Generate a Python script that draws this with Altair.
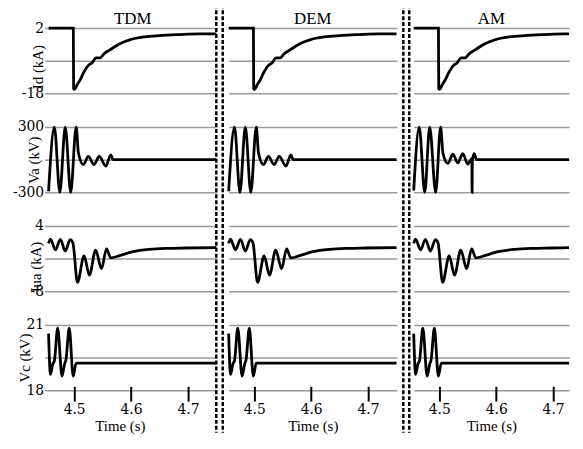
import altair as alt
import pandas as pd

METHODS = ["TDM", "DEM", "AM"]
TIME_TICKS = [4.5, 4.6, 4.7]

# Id (kA)
ID_T = [4.455, 4.4985, 4.4990, 4.5003, 4.5054, 4.5107, 4.5176, 4.5246, 4.5315, 4.5385,
        4.5454, 4.5524, 4.5628, 4.5802, 4.5976, 4.6237, 4.6498, 4.6846, 4.7193, 4.7500]
ID_V = [2, 2, -16.5, -16.8, -15.3, -13.8, -11.3, -9.5, -8.6, -7.1,
        -7.1, -5.9, -4.7, -2.8, -1.6, -0.7, -0.3, 0.0, 0.2, 0.2]

# Va (kV) for TDM and DEM
VA_T = [4.455, 4.4652, 4.4748, 4.4843, 4.4939, 4.5035, 4.5075, 4.5162, 4.5249, 4.5348,
        4.5440, 4.5557, 4.5643, 4.5683, 4.7500]
VA_V = [-290, 300, -300, 300, -300, 300, 60, -45, 30, -45,
        30, -60, 45, 0, 0]

# Va (kV) for AM
VA_AM_T = [4.455, 4.4647, 4.4744, 4.4831, 4.4936, 4.5023, 4.5064, 4.5151, 4.5238, 4.5325,
           4.5412, 4.5499, 4.5572, 4.5576, 4.5580, 4.5614, 4.5655, 4.7500]
VA_AM_V = [-284, 300, -300, 300, -300, 300, 60, -35, 50, -30,
           55, -40, 10, -300, -10, 55, 0, 0]

# Iua (kA)
IUA_T = [4.455, 4.4583, 4.4670, 4.4757, 4.4843, 4.4930, 4.4977, 4.5058, 4.5174, 4.5267,
         4.5377, 4.5481, 4.5568, 4.5643, 4.5800, 4.6032, 4.6322, 4.6612, 4.6960, 4.7500]
IUA_V = [0.8, 1.6, -0.4, 1.55, -0.6, 1.5, 0.9, -6.35, -1.5, -5.05,
         -0.45, -3.85, -0.2, -1.86, -1.45, -0.73, -0.3, -0.12, -0.05, 0.0]

# Vc (kV)
VC_T = [4.455, 4.4583, 4.4623, 4.4652, 4.4710, 4.4786, 4.4831, 4.4856, 4.4913, 4.4983,
        4.5035, 4.7500]
VC_V = [20.6, 18.73, 19.2, 19.35, 20.85, 18.65, 19.2, 19.4, 20.85, 18.65,
        19.25, 19.25]

SERIES = {
    "TDM": [(ID_T, ID_V), (VA_T, VA_V), (IUA_T, IUA_V), (VC_T, VC_V)],
    "DEM": [(ID_T, ID_V), (VA_T, VA_V), (IUA_T, IUA_V), (VC_T, VC_V)],
    "AM": [(ID_T, ID_V), (VA_AM_T, VA_AM_V), (IUA_T, IUA_V), (VC_T, VC_V)],
}

ROW_TITLES = ["Id (kA)", "Va (kV)", "Iua (kA)", "Vc (kV)"]
ROW_DOMAINS = [[-18, 2], [-300, 300], [-8, 4], [18, 21]]
ROW_TICKS = [[-18, -8, 2], [-300, 0, 300], [-8, -2, 4], [18, 19.5, 21]]

H = 66
VSP = 34
COL_W = [170, 170, 157]
TITLE_X = [-11, -15, -13, -24]
TITLE_DY = [6, 0, 8, 0]
SEP_X = [None, [-12.5, -6], [-10.5, -4.5]]
GAP_X = [None, None, -19]
TITLE_OFFSET = [-7, -6, -6]

SERIF = "Liberation Serif"
NUMF = "DejaVu Serif"
GRID = "#9a9a9a"


def cell(ci, ri):
    method = METHODS[ci]
    t, v = SERIES[method][ri]
    df = pd.DataFrame({"t": t, "v": v})
    w = COL_W[ci]
    t0 = 4.455
    dom = [t0, t0 + w / 575.0]
    if ri == 3:
        ax_kw = dict(values=TIME_TICKS, format=".1f", title="Time (s)", domain=False, grid=False,
                     ticks=True, tickSize=15, tickWidth=2, tickColor="black", offset=-4,
                     labelFont=NUMF, labelFontSize=14, labelColor="black", labelPadding=2,
                     labelFlush=False, titleFont=SERIF, titleFontSize=15, titleFontWeight="normal",
                     titleColor="black", titleBaseline="alphabetic", titleY=45)
        if ci == 0:
            ax_kw["titleX"] = 72
        xaxis = alt.Axis(**ax_kw)
    else:
        xaxis = None
    x = alt.X("t:Q", scale=alt.Scale(domain=dom, nice=False, zero=False, clamp=True), axis=xaxis)
    hide = ROW_TICKS[ri][1]
    if ci == 0:
        yaxis = alt.Axis(values=ROW_TICKS[ri],
                         labelExpr=f"datum.value == {hide} ? '' : toString(datum.value)",
                         title=ROW_TITLES[ri], titleX=TITLE_X[ri], titleY=H / 2 + TITLE_DY[ri],
                         titleAngle=270, titleAlign="center", titleBaseline="middle",
                         titleFont=SERIF, titleFontSize=15, titleFontWeight="normal", titleColor="black",
                         grid=True, gridColor=GRID, gridWidth=1.5, domain=False,
                         ticks=True, tickSize=4, tickColor=GRID, tickWidth=1.5,
                         labelPadding=1, labelFont=NUMF, labelFontSize=14, labelColor="black",
                         labelFlush=False, labelOverlap=False)
    else:
        yaxis = alt.Axis(values=ROW_TICKS[ri], grid=True, gridColor=GRID, gridWidth=1.5,
                         labels=False, ticks=False, domain=False, title=None, minExtent=0)
    y = alt.Y("v:Q", scale=alt.Scale(domain=ROW_DOMAINS[ri], nice=False, zero=False), axis=yaxis)
    ch = alt.Chart(df).mark_line(color="black", strokeWidth=2.8, interpolate="monotone").encode(
        x=x, y=y)
    if ri == 3 and SEP_X[ci] is not None:
        sep_df = pd.DataFrame({"k": [0]})
        top = -3 * (H + VSP) - 24
        rules = [alt.Chart(sep_df).mark_rule(color="black", strokeWidth=2.5, strokeDash=[4, 2]).encode(
            x=alt.value(xv), y=alt.value(top), y2=alt.value(H + 43)) for xv in SEP_X[ci]]
        if GAP_X[ci] is not None:
            rules.append(alt.Chart(sep_df).mark_rule(color="white", opacity=0).encode(
                x=alt.value(GAP_X[ci]), y=alt.value(0), y2=alt.value(H)))
        ch = alt.layer(ch, *rules)
    ch = ch.properties(width=w, height=H)
    if ri == 0:
        ch = ch.properties(title=alt.Title(text=method, font=SERIF, fontSize=17, fontWeight="normal",
                                           color="black", anchor="middle", offset=TITLE_OFFSET[ci]))
    return ch


def column(ci):
    return alt.vconcat(*[cell(ci, ri) for ri in range(4)], spacing=VSP, bounds="flush")


chart = alt.hconcat(
    column(0), column(1), column(2), spacing=-8
).properties(
    padding={"left": 4, "top": -8, "right": 0, "bottom": 0},
    background="white",
).configure_view(stroke=None)

chart.save("out.html", embed_options={"renderer": "svg", "actions": False})
